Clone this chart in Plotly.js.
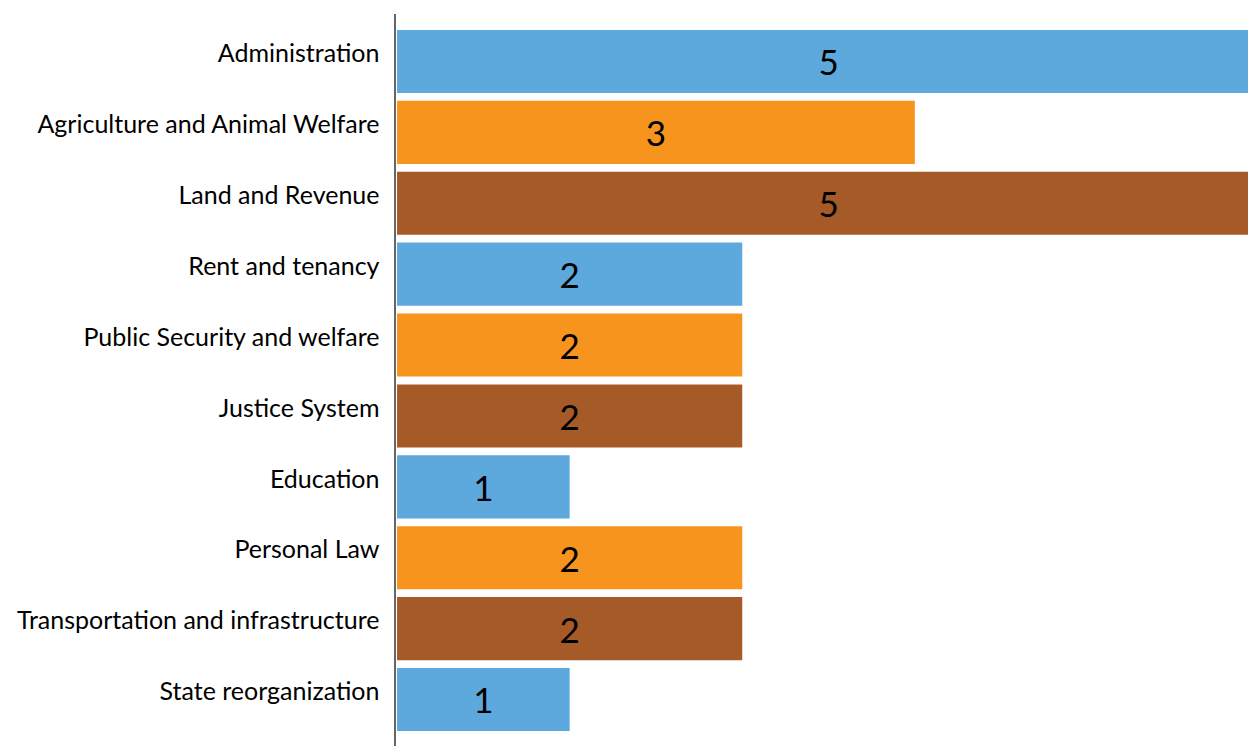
<!DOCTYPE html>
<html>
<head>
<meta charset="utf-8">
<script src="https://cdn.plot.ly/plotly-3.0.1.min.js"></script>
<style>html,body{margin:0;padding:0;background:#fff;}#chart{width:1248px;height:746px;}</style>
</head>
<body>
<div id="chart"></div>
<script>
const categories = ["Administration","Agriculture and Animal Welfare","Land and Revenue","Rent and tenancy","Public Security and welfare","Justice System","Education","Personal Law","Transportation and infrastructure","State reorganization"];
const values = [5,3,5,2,2,2,1,2,2,1];
const barColors = ["#5DA9DD","#F7941E","#A65A28","#5DA9DD","#F7941E","#A65A28","#5DA9DD","#F7941E","#A65A28","#5DA9DD"];

const trace = {
  type: "bar",
  orientation: "h",
  y: categories,
  x: values,
  text: values.map(String),
  textposition: "inside",
  insidetextanchor: "middle",
  textangle: 0,
  constraintext: "none",
  textfont: {family: "Lato, sans-serif", size: 35, color: "#000"},
  marker: {color: barColors, line: {width: 0}},
  hoverinfo: "none",
  cliponaxis: true
};

const layout = {
  width: 1248, height: 746,
  margin: {l: 396, r: 0, t: 14, b: 0, pad: 0},
  paper_bgcolor: "#fff", plot_bgcolor: "#fff",
  bargap: 0.11,
  showlegend: false,
  font: {family: "Lato, sans-serif", color: "#000"},
  xaxis: {range: [-0.006, 4.93], showgrid: false, zeroline: false, showticklabels: false, showline: false, ticks: ""},
  yaxis: {
    type: "category",
    range: [9.656, -0.67],
    showgrid: false, zeroline: false,
    showline: true, linecolor: "#666", linewidth: 2.5,
    ticks: "", ticklabelstandoff: 9, ticklabelshift: 8,
    tickfont: {family: "Lato, sans-serif", size: 25, color: "#000"}
  }
};

Plotly.newPlot("chart", [trace], layout, {displayModeBar: false, staticPlot: true});
</script>
</body>
</html>
